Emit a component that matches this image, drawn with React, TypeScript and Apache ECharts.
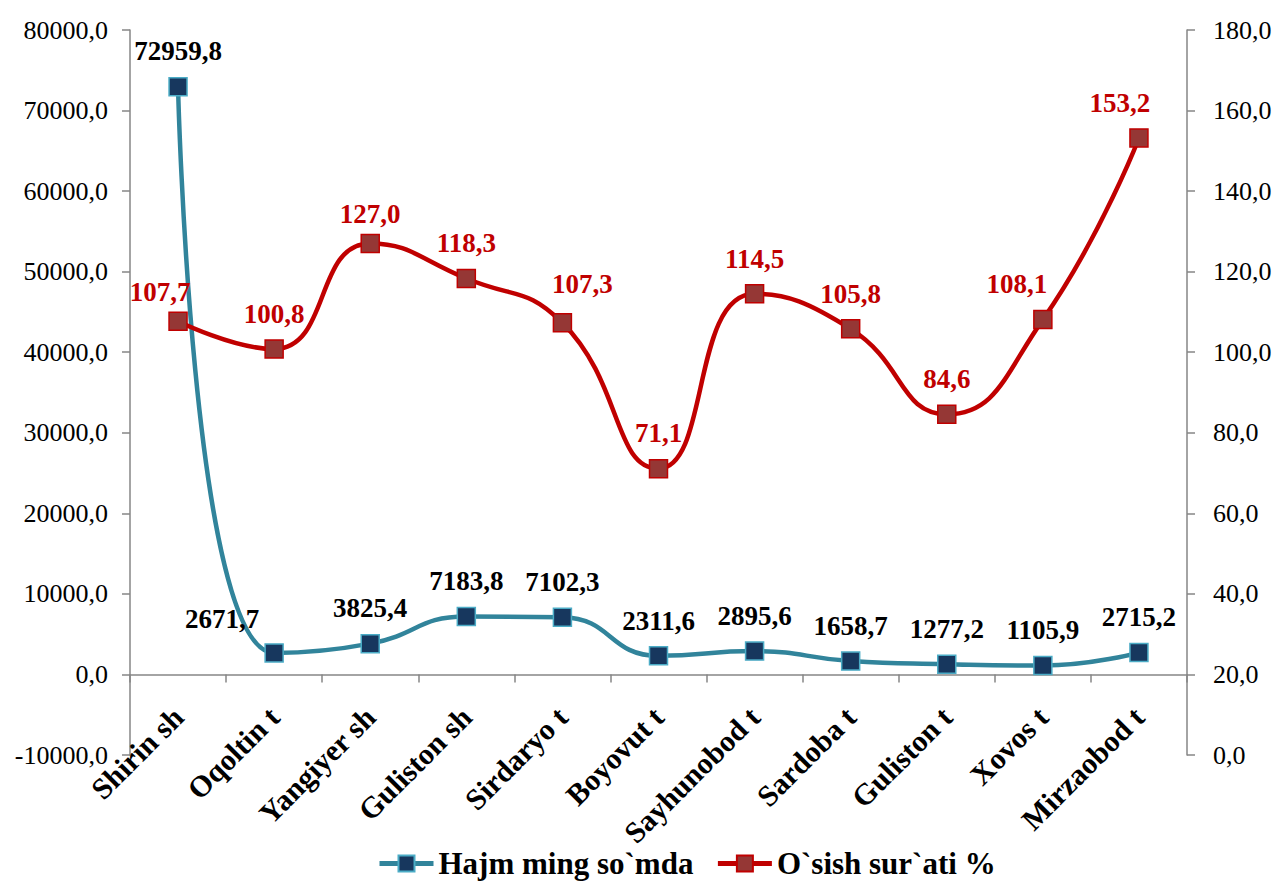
import React, { useEffect, useRef } from "react";
import * as echarts from "echarts";

const categories = [
  "Shirin sh",
  "Oqoltin t",
  "Yangiyer sh",
  "Guliston sh",
  "Sirdaryo t",
  "Boyovut t",
  "Sayhunobod t",
  "Sardoba t",
  "Guliston t",
  "Xovos t",
  "Mirzaobod t",
];

const hajmValues = [72959.8, 2671.7, 3825.4, 7183.8, 7102.3, 2311.6, 2895.6, 1658.7, 1277.2, 1105.9, 2715.2];
const osishValues = [107.7, 100.8, 127.0, 118.3, 107.3, 71.1, 114.5, 105.8, 84.6, 108.1, 153.2];

const seriesNames = ["Hajm ming so`mda", "O`sish sur`ati %"];

// label nudges (pixels) for individual points
const hajmLabelOffsets: Record<number, [number, number]> = { 1: [-52, 1] };
const osishLabelOffsets: Record<number, [number, number]> = {
  0: [-18, 6],
  2: [0, 6],
  4: [20, -4],
  9: [-26, 0],
  10: [-19, 0],
};

const FONT = "Liberation Serif";
const fmt = (v: number) => v.toFixed(1).replace(".", ",");

export default function App() {
  const ref = useRef<HTMLDivElement>(null);

  useEffect(() => {
    if (!ref.current) return;
    const chart = echarts.init(ref.current, undefined, { renderer: "svg" });
    const axisColor = "#868686";

    const hajmData = hajmValues.map((v, i) =>
      hajmLabelOffsets[i] ? { value: v, label: { offset: hajmLabelOffsets[i] } } : v
    );
    const osishData = osishValues.map((v, i) =>
      osishLabelOffsets[i] ? { value: v, label: { offset: osishLabelOffsets[i] } } : v
    );

    chart.setOption({
      animation: false,
      backgroundColor: "#ffffff",
      textStyle: { fontFamily: FONT },
      grid: {
        left: 130,
        right: 88,
        top: 30,
        bottom: 127,
        containLabel: false,
        outerBoundsMode: "none",
      },
      legend: {
        top: 843,
        left: 372,
        itemWidth: 54,
        itemHeight: 20,
        itemGap: 22,
        lineStyle: { width: 5 },
        textStyle: { fontFamily: FONT, fontSize: 31, fontWeight: "bold", color: "#000" },
        data: seriesNames,
      },
      xAxis: {
        type: "category",
        data: categories,
        boundaryGap: true,
        axisLine: { onZero: true, lineStyle: { color: axisColor, width: 1.5 } },
        axisTick: { show: true, inside: false, length: 8, lineStyle: { color: axisColor, width: 1.5 } },
        axisLabel: {
          rotate: 45,
          margin: -43,
          interval: 0,
          fontFamily: FONT,
          fontSize: 30,
          fontWeight: "bold",
          color: "#000",
        },
        splitLine: { show: false },
      },
      yAxis: [
        {
          type: "value",
          min: -10000,
          max: 80000,
          interval: 10000,
          position: "left",
          axisLine: { show: true, lineStyle: { color: axisColor, width: 1.5 } },
          axisTick: { show: true, length: 8, lineStyle: { color: axisColor, width: 1.5 } },
          axisLabel: {
            margin: 22,
            fontFamily: FONT,
            fontSize: 26,
            color: "#000",
            formatter: (v: number) => fmt(v),
          },
          splitLine: { show: false },
        },
        {
          type: "value",
          min: 0,
          max: 180,
          interval: 20,
          position: "right",
          axisLine: { show: true, lineStyle: { color: axisColor, width: 1.5 } },
          axisTick: { show: true, length: 8, lineStyle: { color: axisColor, width: 1.5 } },
          axisLabel: {
            margin: 26,
            fontFamily: FONT,
            fontSize: 26,
            color: "#000",
            formatter: (v: number) => fmt(v),
          },
          splitLine: { show: false },
        },
      ],
      series: [
        {
          name: seriesNames[0],
          type: "line",
          yAxisIndex: 0,
          data: hajmData,
          smooth: 0.5,
          symbol: "rect",
          symbolSize: 18,
          lineStyle: { color: "#31849B", width: 4.5 },
          itemStyle: { color: "#17375E", borderColor: "#4BACC6", borderWidth: 1.5 },
          label: {
            show: true,
            position: "top",
            distance: 12,
            fontFamily: FONT,
            fontSize: 27,
            fontWeight: "bold",
            color: "#000",
            formatter: (p: any) => fmt(p.value),
          },
          z: 3,
        },
        {
          name: seriesNames[1],
          type: "line",
          yAxisIndex: 1,
          data: osishData,
          smooth: 0.5,
          symbol: "rect",
          symbolSize: 18,
          lineStyle: { color: "#C00000", width: 4.5 },
          itemStyle: { color: "#953735", borderColor: "#C00000", borderWidth: 1.5 },
          label: {
            show: true,
            position: "top",
            distance: 12,
            fontFamily: FONT,
            fontSize: 27,
            fontWeight: "bold",
            color: "#C00000",
            formatter: (p: any) => fmt(p.value),
          },
          z: 4,
        },
      ],
    });

    return () => chart.dispose();
  }, []);

  return (
    <div
      ref={ref}
      style={{ position: "fixed", left: 0, top: 0, width: 1275, height: 882, background: "#fff" }}
    />
  );
}
